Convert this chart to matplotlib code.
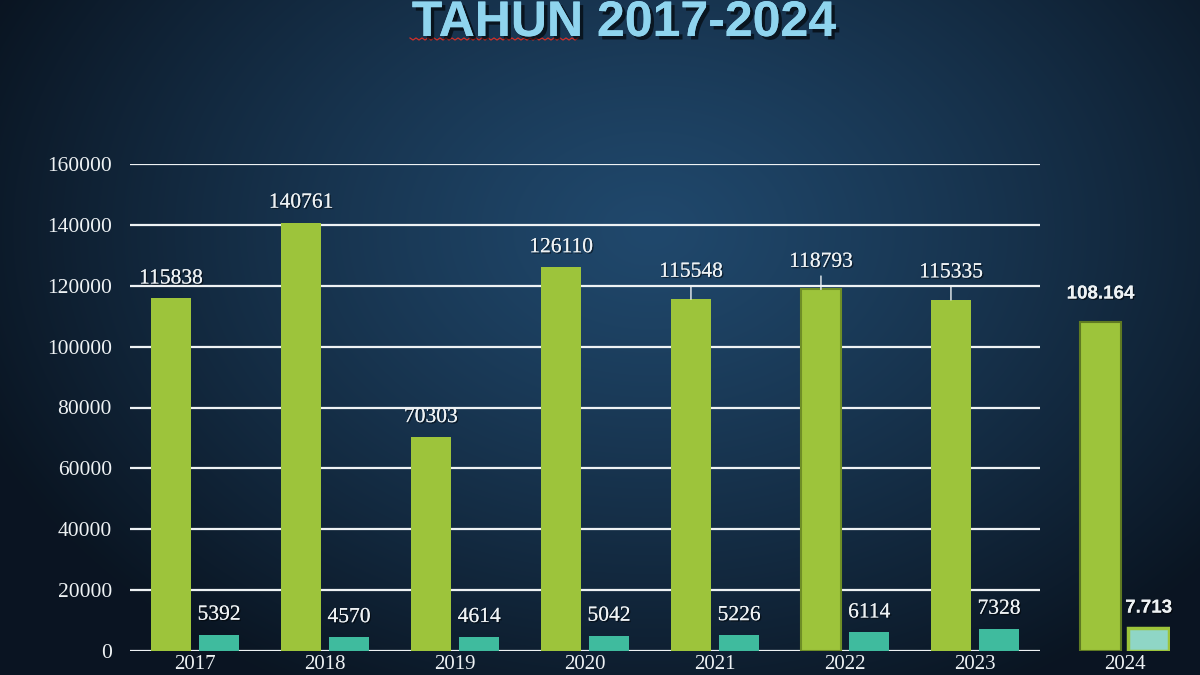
import numpy as np
import matplotlib.pyplot as plt
import matplotlib.patheffects as pe

# data
years = ['2017', '2018', '2019', '2020', '2021', '2022', '2023']
series_a = [115838, 140761, 70303, 126110, 115548, 118793, 115335]
series_b = [5392, 4570, 4614, 5042, 5226, 6114, 7328]
year_last = '2024'
a_last = 108164
b_last = 7713
a_last_label = '108.164'
b_last_label = '7.713'
yticks = [0, 20000, 40000, 60000, 80000, 100000, 120000, 140000, 160000]
title = 'TAHUN 2017-2024'

green = '#9dc43b'
teal = '#3fbb9e'
white = '#eef2f4'
serif = ['Liberation Serif', 'DejaVu Serif']

fig = plt.figure(figsize=(12, 6.75), dpi=100)

# background: dark blue radial gradient
bg = fig.add_axes([0, 0, 1, 1])
h, w = 675, 1200
yy, xx = np.mgrid[0:h, 0:w]
d = np.sqrt(((xx - 650) / 720) ** 2 + ((yy - 230) / 520) ** 2)
d = np.clip(d, 0, 1) ** 1.2
c_in = np.array([0x20, 0x48, 0x6c]) / 255
c_out = np.array([0x0a, 0x15, 0x22]) / 255
img = c_in + (c_out - c_in) * d[..., None]
bg.imshow(img, aspect='auto', extent=[0, 1, 0, 1])
bg.axis('off')

ax = fig.add_axes([130 / 1200, 24 / 675, 1040 / 1200, 487 / 675])
ax.patch.set_alpha(0)
ax.set_xlim(-0.5, 7.5)
ax.set_ylim(0, 160000)
for s in ax.spines.values():
    s.set_visible(False)

x = np.arange(len(years))
x_last = 7.15
off = 0.185
bw = 0.31

# gridlines only across the main block
ax.hlines(yticks, -0.5, len(years) - 0.5, color=white, lw=1.6, zorder=1)

ax.bar(x - off, series_a, bw, color=green, zorder=2)
ax.bar(x + off, series_b, bw, color=teal, zorder=2)
# 2022 bar has a darker outline in the picture
ax.patches[5].set_edgecolor('#6f8f26')
ax.patches[5].set_linewidth(1.5)

ax.bar(x_last - off, a_last, bw, color=green, edgecolor='#5f7a22', lw=1.5, zorder=2)
ax.bar(x_last + off, b_last, bw, color='#8fd6c6', edgecolor=green, lw=2.5, zorder=2)

txt_fx = [pe.withSimplePatchShadow(offset=(1, -1), shadow_rgbFace='black', alpha=0.5), pe.Normal()]

for i, v in enumerate(series_a):
    if i >= 4:
        ax.annotate(str(v), (x[i] - off, v), xytext=(0, 19.5), textcoords='offset points',
                    ha='center', va='center', fontsize=15.5, color=white, family=serif,
                    path_effects=txt_fx,
                    arrowprops=dict(arrowstyle='-', color=white, lw=1, shrinkA=1, shrinkB=0))
    else:
        ax.annotate(str(v), (x[i] - off, v), xytext=(0, 14), textcoords='offset points',
                    ha='center', va='center', fontsize=15.5, color=white, family=serif,
                    path_effects=txt_fx)
for i, v in enumerate(series_b):
    ax.annotate(str(v), (x[i] + off, v), xytext=(0, 14), textcoords='offset points',
                ha='center', va='center', fontsize=15.5, color=white, family=serif,
                path_effects=txt_fx)

ax.annotate(a_last_label, (x_last - off, a_last), xytext=(0, 20), textcoords='offset points',
            ha='center', va='center', fontsize=13.5, fontweight='bold', color=white,
            family=['Liberation Sans', 'DejaVu Sans'], path_effects=txt_fx)
ax.annotate(b_last_label, (x_last + off, b_last), xytext=(0, 14), textcoords='offset points',
            ha='center', va='center', fontsize=13.5, fontweight='bold', color=white,
            family=['Liberation Sans', 'DejaVu Sans'], path_effects=txt_fx)

ax.set_yticks(yticks)
ax.set_yticklabels([str(t) for t in yticks], family=serif, fontsize=15.5, color=white)
ax.set_xticks(list(x) + [x_last])
ax.set_xticklabels(years + [year_last], family=serif, fontsize=15, color=white)
ax.tick_params(axis='y', length=0, pad=13)
ax.tick_params(axis='x', length=0, pad=3)

fig.text(0.52, 1 - 36 / 675, title, ha='center', va='baseline', fontsize=36,
         fontweight='bold', color='#8fd4ee', family=['Liberation Sans', 'DejaVu Sans'],
         path_effects=[pe.withSimplePatchShadow(offset=(2.5, -2.5), shadow_rgbFace='black', alpha=0.6),
                       pe.Normal()])

# spellcheck squiggle under the first word
sx = np.arange(410, 581, 3)
sy = 675 - 39 + np.where(np.arange(len(sx)) % 2 == 0, 1, -1)
bg.plot(sx / 1200, sy / 675, color='#d0302a', lw=0.9, transform=fig.transFigure)

fig.savefig('out.png', dpi=100)
